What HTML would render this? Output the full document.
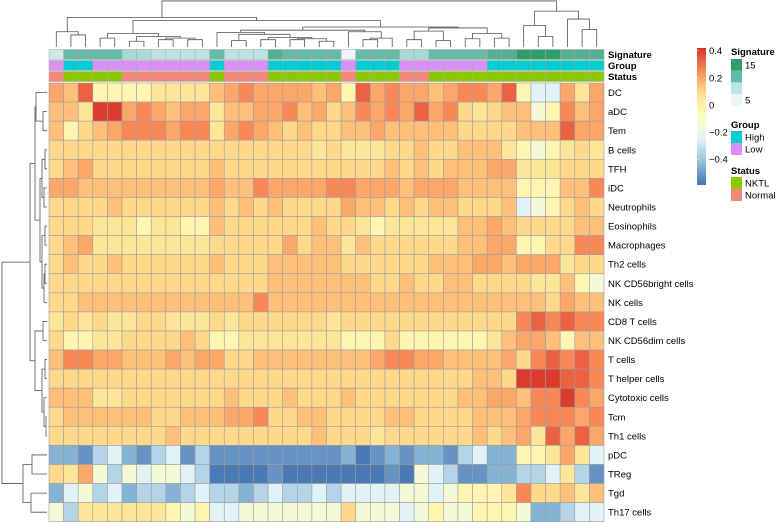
<!DOCTYPE html>
<html><head><meta charset="utf-8"><style>
html,body{margin:0;padding:0;background:#fff;}
svg{display:block;font-family:"Liberation Sans",sans-serif;}
</style></head><body>
<svg id="chart" width="777" height="523" viewBox="0 0 777 523" xmlns="http://www.w3.org/2000/svg">
<g id="dendTop"></g>
<g id="dendLeft"></g>
<g id="annot"></g>
<g id="cells"></g>
<g id="rowlabels"></g>
<g id="legend"></g>
</svg>
<script>
const rowLabels=["DC","aDC","Tem","B cells","TFH","iDC","Neutrophils","Eosinophils","Macrophages","Th2 cells","NK CD56bright cells","NK cells","CD8 T cells","NK CD56dim cells","T cells","T helper cells","Cytotoxic cells","Tcm","Th1 cells","pDC","TReg","Tgd","Th17 cells"];
const values=[
[.2,.15,.33,-.03,-.03,-.03,-.03,.05,.05,.05,.05,.15,.2,.26,.2,.2,.2,.2,.15,.2,-.03,.33,.2,.26,.2,.2,.15,.2,.26,.26,.2,.33,-.03,-.25,-.25,.2,.05,.2],
[.15,.15,.05,.4,.4,.2,.26,.2,.15,.2,.2,.05,.15,.15,.2,.2,.26,.15,.2,.1,.15,.26,.2,.26,.2,.33,.2,.26,.1,.05,.1,.15,.15,-.15,-.03,.26,.15,.2],
[.15,-.03,.1,.15,.2,.26,.26,.26,.2,.26,.26,.05,.2,.26,.2,.15,.1,.15,.1,.1,.15,.15,.2,.15,.15,.15,.15,.15,.1,.1,.1,.1,.15,.15,.15,.33,.2,.2],
[.1,.1,.1,.1,.1,.1,.1,.1,.1,.1,.1,.1,.1,.1,.1,.1,.1,.1,.05,.1,.05,.05,.05,.1,.1,.15,.1,.1,.15,.15,.15,.05,-.03,-.15,-.03,.05,.1,.05],
[.1,.15,.2,.1,.1,.1,.1,.1,.1,.1,.1,.15,.1,.1,.1,.1,.1,.1,.1,.1,.1,.1,.1,.15,.1,.15,.1,.15,.15,.15,.2,.2,.05,.05,.05,.1,.1,.1],
[.2,.2,.15,.15,.15,.15,.15,.15,.15,.15,.15,.2,.15,.15,.26,.2,.2,.2,.2,.26,.26,.2,.2,.2,.15,.2,.2,.2,.15,.15,.15,.15,-.03,-.03,-.03,.15,.15,.26],
[.1,.1,.1,.1,.15,.1,.1,.1,.1,.1,.1,.15,.1,.15,.1,.15,.1,.1,.1,.1,.2,.15,.15,.1,.15,.1,.15,.15,.1,.1,.1,.15,-.25,-.15,-.03,.1,.15,.1],
[.1,.1,.1,.05,.05,.05,-.03,.05,.05,-.03,-.03,.15,.1,.1,.1,.1,.1,.1,.15,.1,.1,.05,-.03,.05,.05,.05,.05,.05,.15,.15,.2,.15,.1,.1,.1,.1,.15,.15],
[.1,.15,.2,.05,.05,.05,.05,.05,.05,.05,.05,.1,.1,.1,.1,.1,.2,.1,.15,.15,.05,.15,.1,.1,.1,.1,.1,.1,.15,.15,.2,.2,-.03,-.03,.1,.1,.26,.26],
[.1,.15,.1,.1,.15,.1,.1,.1,.1,.1,.1,.15,.1,.1,.1,.15,.15,.15,.15,.15,.1,.1,.1,.1,.1,.1,.15,.15,.15,.2,.2,.15,.2,.2,.2,.05,.1,.1],
[.1,.1,.1,.1,.1,.1,.1,.1,.1,.1,.1,.1,.1,.1,.1,.15,.15,.15,.15,.15,.15,.15,.1,.1,.15,.1,.1,.15,.15,.1,.1,.1,.1,.05,.05,.15,-.03,-.15],
[.1,.1,.15,.15,.15,.15,.15,.15,.15,.15,.15,.15,.15,.15,.26,.15,.15,.15,.15,.15,.15,.15,.15,.15,.15,.15,.15,.15,.15,.15,.15,.15,.15,.15,.1,.2,.15,.15],
[.05,.1,.05,.1,.05,.05,.1,.1,.05,.05,.05,.1,.05,.1,.1,.1,.1,.1,.1,.05,.1,.1,.1,.1,.1,.1,.1,.1,.1,.1,.1,.1,.26,.33,.26,.33,.26,.26],
[.1,-.03,-.03,.05,.05,.1,.1,.1,.1,.15,.1,-.03,-.03,.05,.05,.05,.05,.05,.05,.05,-.03,-.03,-.03,.1,-.03,-.03,-.03,-.03,-.03,-.03,.05,.15,.2,.2,.15,-.03,.15,.15],
[.15,.26,.26,.2,.2,.15,.15,.15,.2,.15,.2,.2,.1,.1,.15,.15,.15,.15,.15,.15,.15,.15,.2,.26,.26,.2,.2,.15,.15,.15,.15,.2,.1,.26,.33,.26,.33,.26],
[.1,.1,.1,.1,.1,.1,.1,.1,.1,.1,.1,.1,.1,.1,.1,.1,.1,.1,.1,.1,.1,.1,.1,.1,.1,.1,.1,.1,.1,.15,.15,.1,.4,.4,.4,.33,.33,.26],
[.15,.15,.15,.05,.05,.1,.1,.1,.1,.1,.1,.1,.15,.1,.1,.1,.15,.1,.1,.1,.15,.1,.1,.1,.1,.1,.1,.1,.15,.15,.2,.2,.15,.26,.26,.4,.26,.2],
[.1,.15,.15,.15,.15,.15,.15,.1,.1,.15,.15,.15,.2,.2,.26,.1,.1,.15,.15,.1,.1,.1,.1,.15,.15,.1,.1,.1,.1,.15,.15,.15,.2,.26,.26,.26,.2,.26],
[.1,.1,.1,.1,.1,.1,.1,.1,.15,.1,.1,.1,.1,.1,.1,.1,.1,.1,.15,.1,.1,.1,.05,.1,.1,.1,.1,.1,.1,.15,.1,.15,.2,.05,.33,.2,.33,.2],
[-.45,-.45,-.52,-.35,-.25,-.45,-.52,-.35,-.25,-.52,-.35,-.52,-.52,-.52,-.52,-.52,-.52,-.52,-.52,-.52,-.45,-.58,-.52,-.45,-.52,-.45,-.45,-.52,-.35,-.25,-.45,-.45,-.03,-.03,.05,.2,.05,-.25],
[.1,.05,.2,-.15,-.35,-.15,-.25,-.15,-.15,-.25,-.35,-.58,-.58,-.58,-.58,-.52,-.58,-.58,-.58,-.58,-.58,-.58,-.58,-.52,-.58,-.15,-.25,-.35,-.52,-.52,-.45,-.45,-.35,-.35,-.25,.05,-.35,-.52],
[-.45,-.25,-.15,-.35,-.25,-.45,-.35,-.35,-.45,-.35,-.25,-.35,-.35,-.45,-.35,-.25,-.35,-.35,-.25,-.35,-.25,-.25,-.25,-.25,-.15,-.15,-.25,-.15,-.03,-.03,-.03,.05,.26,.1,.1,.15,.05,.15],
[-.15,-.35,.05,.05,.05,.05,.05,.05,-.03,-.15,-.03,-.25,-.25,-.15,-.15,-.15,-.15,-.15,-.15,-.15,.1,-.15,-.15,-.15,-.25,-.15,-.03,-.15,-.15,-.03,-.03,-.03,-.15,-.45,-.45,-.35,-.25,-.25]
];
const signature=[7,12,12,12,12,9,9,8,8,8,8,12,8,8,8,13,12,12,12,12,5,12,12,12,9,9,12,12,12,12,13,13,15,15,15,13,13,13];
const group=["Low","High","High","Low","Low","Low","Low","Low","Low","Low","Low","High","Low","Low","Low","High","High","High","High","High","Low","High","High","High","Low","Low","Low","Low","Low","Low","High","High","High","High","High","High","High","High"];
const status=["Normal","NKTL","NKTL","NKTL","NKTL","Normal","Normal","Normal","Normal","Normal","Normal","NKTL","Normal","Normal","Normal","NKTL","NKTL","NKTL","NKTL","NKTL","Normal","NKTL","NKTL","NKTL","Normal","Normal","NKTL","NKTL","NKTL","NKTL","NKTL","NKTL","NKTL","NKTL","NKTL","NKTL","NKTL","NKTL"];
const colorTicks=[0.4,0.2,0,-0.2,-0.4];
const colorTickLabels=["0.4","0.2","0","\u22120.2","\u22120.4"];
const colTree=[[[0,[1,2,110],100],[[[3,4,120],[[5,6,130],[[7,8,125],[9,10,125],120],115],105],[[[11,[[12,13,128],[[14,15,125],[[16,17,125],[18,19,130],122],118],108],102],[20,[[21,22,125],23,120],100],95],[[[24,25,125],[26,27,128],98],[[28,29,122],[30,31,120],105],88],85],65],55],[[32,[33,34,115],80],[35,[36,37,93],60],35],3];
const rowTree=[[[[0,[1,2,43],36],[[[3,4,45],[5,6,44],42],[[7,8,45],[[9,10,45],11,44],42],40],35],[[12,13,43],[[14,15,45],[16,[17,18,46],44],42],35],30],[[19,20,32],[21,22,31],23],2];

const NS="http://www.w3.org/2000/svg";
const X0=49,W=555,Y0=83,H=438.7;
const nC=38,nR=23,cw=W/nC,ch=H/nR;
const vmin=-0.59,vmax=0.42;
const stops=["#4575B4","#91BFDB","#E0F3F8","#FFFFBF","#FEE090","#FC8D59","#D73027"];
function hex(c){return [parseInt(c.slice(1,3),16),parseInt(c.slice(3,5),16),parseInt(c.slice(5,7),16)];}
function colorOf(v){let t=(v-vmin)/(vmax-vmin);t=Math.max(0,Math.min(1,t))*(stops.length-1);
 let i=Math.min(Math.floor(t),stops.length-2),f=t-i;const a=hex(stops[i]),b=hex(stops[i+1]);
 return "rgb("+a.map((x,k)=>Math.round(x+(b[k]-x)*f)).join(",")+")";}
function xCol(i){return X0+i*cw;}
function yRow(i){return Y0+i*ch;}
function el(tag,attrs,parent){const e=document.createElementNS(NS,tag);for(const k in attrs)e.setAttribute(k,attrs[k]);parent.appendChild(e);return e;}

const cells=document.getElementById("cells");
values.forEach((row,r)=>row.forEach((v,c)=>{
 const e=el("rect",{x:xCol(c),y:yRow(r),width:cw,height:ch,fill:colorOf(v),stroke:"#9e9e9e","stroke-width":0.6},cells);
 
 
}));
const rl=document.getElementById("rowlabels");
rowLabels.forEach((l,r)=>{
 const t=el("text",{x:608,y:yRow(r)+ch/2+3.5,"font-size":9.5,fill:"#000"},rl);t.textContent=l;
 
 
});
const sigStops=[[5,"#EAF6F8"],[8,"#BEE3E3"],[12,"#66BBA6"],[15,"#2E9E6A"]];
function sigColor(v){for(let i=0;i<sigStops.length-1;i++){const[a,ca]=sigStops[i],[b,cb]=sigStops[i+1];if(v<=b){const f=(v-a)/(b-a),A=hex(ca),B=hex(cb);return "rgb("+A.map((x,k)=>Math.round(x+(B[k]-x)*f)).join(",")+")";}}return sigStops[3][1];}
const groupCol={High:"#00CED1",Low:"#DA8FF2"},statusCol={NKTL:"#8CC800",Normal:"#F4877C"};
const an=document.getElementById("annot");
const annRows=[["Signature",49.5,c=>sigColor(signature[c])],["Group",60.5,c=>groupCol[group[c]]],["Status",71.5,c=>statusCol[status[c]]]];
annRows.forEach(([name,y,fn])=>{
 for(let c=0;c<nC;c++){const e=el("rect",{x:xCol(c),y:y,width:cw,height:10,fill:fn(c),stroke:"#a8a8a8","stroke-width":0.5},an);
  
  }
 const t=el("text",{x:608,y:y+8.5,"font-size":9.5,"font-weight":"bold"},an);t.textContent=name;
 
 
});
const dt=document.getElementById("dendTop");
function drawTop(n){if(typeof n==="number")return{p:X0+(n+0.5)*cw,y:47};
 const a=drawTop(n[0]),b=drawTop(n[1]),y=n[2]*47/148;
 el("path",{d:`M${a.p},${a.y}V${y}H${b.p}V${b.y}`,fill:"none",stroke:"#555","stroke-width":0.8},dt);
 return{p:(a.p+b.p)/2,y:y};}
drawTop(colTree);
const dl=document.getElementById("dendLeft");
function drawLeft(n){if(typeof n==="number")return{p:Y0+(n+0.5)*ch,x:47};
 const a=drawLeft(n[0]),b=drawLeft(n[1]),x=n[2];
 el("path",{d:`M${a.x},${a.p}H${x}V${b.p}H${b.x}`,fill:"none",stroke:"#555","stroke-width":0.8},dl);
 return{p:(a.p+b.p)/2,x:x};}
drawLeft(rowTree);
const lg=document.getElementById("legend");
const cbTop=48,cbBot=185,cbX=697;
function yVal(v){return cbTop+(vmax-v)/(vmax-vmin)*(cbBot-cbTop);}
const defs=el("defs",{},lg);const gr=el("linearGradient",{id:"cb",x1:0,y1:1,x2:0,y2:0},defs);
stops.forEach((s,i)=>el("stop",{offset:i/(stops.length-1),"stop-color":s},gr));
const cb=el("rect",{x:cbX,y:cbTop,width:9,height:cbBot-cbTop,fill:"url(#cb)"},lg);


colorTicks.forEach((v,i)=>{el("line",{x1:cbX,x2:cbX+2,y1:yVal(v),y2:yVal(v),stroke:"#fff","stroke-width":0.6},lg);
 const t=el("text",{x:cbX+12,y:yVal(v)+3.5,"font-size":9.5},lg);t.textContent=colorTickLabels[i];
 
 });
function title(txt,y){const t=el("text",{x:731,y:y,"font-size":9.5,"font-weight":"bold"},lg);t.textContent=txt;
 
 }
function box(y,h,col,lab){const r=el("rect",{x:731,y:y,width:11,height:h,fill:col},lg);
 
 
 if(lab){const t=el("text",{x:745,y:y+h/2+3.5,"font-size":9.5},lg);t.textContent=lab;
 
 }}
title("Signature",55);
box(59,11.7,"#2E9E6A","15");box(70.7,11.7,"#66BBA6","");box(82.4,11.7,"#BEE3E3","");box(94.1,11.7,"#EAF6F8","5");
title("Group",128);box(131,12,"#00CED1","High");box(143,12,"#DA8FF2","Low");
title("Status",174);box(177,12,"#8CC800","NKTL");box(189,12,"#F4877C","Normal");
</script>
</body></html>
